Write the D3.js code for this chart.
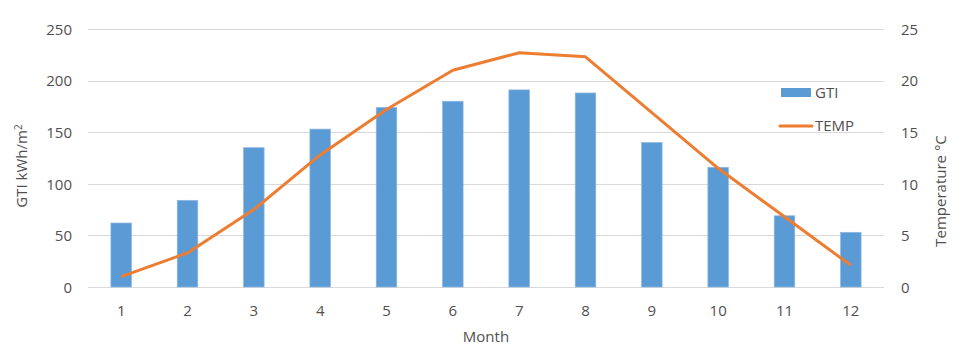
<!DOCTYPE html>
<html>
<meta charset="utf-8">
<style>
body { margin: 0; background: #fff; }
svg text { font-family: "Open Sans", sans-serif; fill: #505050; font-size: 15px; }
.grid line { stroke: #d9d9d9; }
</style>
<body>
<svg width="967" height="356"></svg>
<script src="https://d3js.org/d3.v7.min.js"></script>
<script>
var months = ["1", "2", "3", "4", "5", "6", "7", "8", "9", "10", "11", "12"];
var gti = [62, 84, 135, 153, 174, 180, 191, 188, 140, 116, 69, 53];
var temp = [1.0, 3.3, 7.5, 12.8, 17.2, 21.0, 22.7, 22.3, 16.9, 11.5, 6.8, 2.1];
var gtiTicks = [0, 50, 100, 150, 200, 250];
var tempTicks = [0, 5, 10, 15, 20, 25];

var svg = d3.select("svg"),
    plotL = 88, plotR = 884, plotT = 29, plotB = 287;

var x = d3.scaleBand().domain(months).range([plotL, plotR]).paddingInner(0.69).paddingOuter(0.345);
var y = d3.scaleLinear().domain([0, 250]).range([plotB, plotT]);
var y2 = d3.scaleLinear().domain([0, 25]).range([plotB, plotT]);

// gridlines
svg.append("g").attr("class", "grid")
  .selectAll("line").data(gtiTicks).enter().append("line")
    .attr("x1", plotL).attr("x2", plotR)
    .attr("y1", function(d) { return Math.round(y(d)) + 0.5; })
    .attr("y2", function(d) { return Math.round(y(d)) + 0.5; });

// left axis
var ax = svg.append("g").attr("transform", "translate(" + (plotL - 16) + ",0)")
  .call(d3.axisLeft(y).tickValues(gtiTicks).tickSize(0).tickPadding(0));
ax.select(".domain").remove();
ax.selectAll("text").attr("dy", "0.35em");

// right axis
var ax2 = svg.append("g").attr("transform", "translate(" + (plotR + 17) + ",0)")
  .call(d3.axisRight(y2).tickValues(tempTicks).tickSize(0).tickPadding(0));
ax2.select(".domain").remove();
ax2.selectAll("text").attr("dy", "0.35em");

// bottom axis
var bx = svg.append("g").attr("transform", "translate(0," + (plotB + 29) + ")")
  .call(d3.axisBottom(x).tickSize(0).tickPadding(0));
bx.select(".domain").remove();
bx.selectAll("text").attr("dy", 0);

// bars
svg.selectAll(".bar").data(gti).enter().append("rect")
    .attr("class", "bar")
    .attr("x", function(d, i) { return x(months[i]); })
    .attr("width", x.bandwidth())
    .attr("y", function(d) { return y(d); })
    .attr("height", function(d) { return plotB - y(d); })
    .attr("fill", "#5b9bd5")
    .attr("stroke", "#8cb8e3").attr("stroke-width", 0.7);

// temperature line
var line = d3.line()
    .x(function(d, i) { return x(months[i]) + x.bandwidth() / 2; })
    .y(function(d) { return y2(d); });

svg.append("path").datum(temp)
    .attr("d", line)
    .attr("fill", "none")
    .attr("stroke", "#ed7d31")
    .attr("stroke-width", 3)
    .attr("stroke-linejoin", "round");

// axis titles
svg.append("text").attr("transform", "translate(27,166) rotate(-90)")
    .attr("text-anchor", "middle").html("GTI kWh/m<tspan dy='-5' font-size='10'>2</tspan>");
svg.append("text").attr("transform", "translate(946,191) rotate(-90)")
    .attr("text-anchor", "middle").text("Temperature  °C");
svg.append("text").attr("x", 486).attr("y", 342)
    .attr("text-anchor", "middle").text("Month");

// legend
svg.append("rect").attr("x", 781).attr("y", 88).attr("width", 30).attr("height", 9).attr("fill", "#5b9bd5");
svg.append("text").attr("x", 815).attr("y", 92.5).attr("dy", "0.35em").text("GTI");
svg.append("line").attr("x1", 780).attr("x2", 812).attr("y1", 126).attr("y2", 126)
    .attr("stroke", "#ed7d31").attr("stroke-width", 3).attr("stroke-linecap", "round");
svg.append("text").attr("x", 815).attr("y", 126).attr("dy", "0.35em").text("TEMP");
</script>
</body>
</html>
